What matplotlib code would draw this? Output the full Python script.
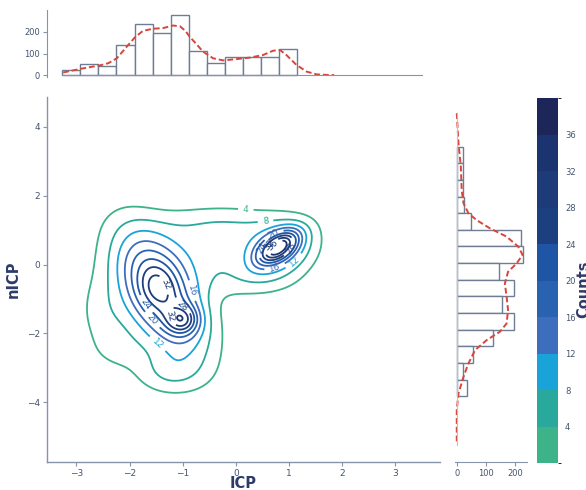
import matplotlib
matplotlib.use("Agg")
import matplotlib.pyplot as plt
import numpy as np
from matplotlib.colors import ListedColormap, BoundaryNorm
from matplotlib.cm import ScalarMappable

# ── density model of the joint plot (gaussian bumps) ──
BUMP_X   = [-1.40, -1.50, -1.00, -1.70,  0.80,  0.85, -0.25, -0.30,  0.30, -1.25, -2.20, -2.50]
BUMP_Y   = [-0.80, -0.65, -1.60, -1.30,  0.50,  0.45,  0.40,  1.20, -0.50, -3.15, -2.50, -1.50]
BUMP_SX  = [ 0.557, 0.22,  0.20,  0.80,  0.27,  0.42,  1.00,  1.00,  0.60,  0.45,  0.35,  0.35]
BUMP_SY  = [ 1.20,  0.40,  0.28,  1.20,  0.34,  0.55,  0.70,  0.40,  0.35,  0.45,  0.40,  0.80]
BUMP_RHO = [-0.54,  0.00,  0.00, -0.20,  0.55,  0.20,  0.00,  0.00,  0.00,  0.00,  0.00,  0.00]
BUMP_AMP = [25.0,   5.0,  14.0,   5.0,  24.0,  12.0,   8.0,   4.0,   3.0,   6.0,   2.5,   3.0]

LEVELS = [4, 8, 12, 16, 20, 24, 28, 32, 36]
BAND_COLORS = ["#3db389", "#28a99b", "#1aa3d9", "#3d6dbd", "#2a62b2",
               "#1f55a5", "#1c3f80", "#1c3b78", "#1b3470", "#1c2659"]

# ── marginal histograms ──
TOP_FIRST_EDGE, TOP_LAST_EDGE = -3.265, 1.147
TOP_COUNTS = [23, 53, 41, 139, 238, 197, 280, 112, 56, 83, 86, 83, 123]
TOP_KDE_X = [-3.25, -2.90, -2.56, -2.40, -2.24, -2.06, -1.90, -1.75, -1.56,
             -1.37, -1.18, -1.05, -0.95, -0.87, -0.74, -0.62, -0.43, -0.24,
             0.01, 0.26, 0.51, 0.70, 0.83, 0.95, 1.14, 1.33, 1.52, 1.77, 1.85]
TOP_KDE_Y = [12, 30, 45, 55, 78, 130, 175, 205, 215,
             218, 230, 226, 205, 178, 143, 109, 78, 68,
             74, 81, 93, 113, 116, 93, 47, 16, 3, 0, 0]

RIGHT_TOP_EDGE, RIGHT_BOTTOM_EDGE = 3.42, -3.82
RIGHT_COUNTS = [20, 20, 20, 25, 50, 222, 226, 146, 196, 154, 196, 123, 55, 23, 34]
RIGHT_KDE_Y = [4.39, 3.52, 2.84, 2.16, 1.78, 1.49, 1.29, 1.05, 0.81, 0.52, 0.28,
               0.03, -0.21, -0.55, -0.93, -1.32, -1.71, -1.95, -2.19, -2.48,
               -2.87, -3.26, -3.74, -4.22, -5.19]
RIGHT_KDE_X = [0, 6, 14, 17, 23, 40, 68, 114, 171, 211, 226,
               205, 176, 165, 171, 176, 171, 148, 103, 63,
               40, 23, 6, 0, 0]

XLIM = (-3.56, 3.84)
YLIM = (-5.72, 4.87)
SPINE = "#8593ab"
TICKC = "#44536f"
LABELC = "#2d3b6a"
EDGE = "#6f7d94"
KDE_RED = "#d8453b"

W, H = 586, 490
fig = plt.figure(figsize=(W / 100, H / 100), dpi=100)


def frac(x0, y0, x1, y1):
    return [x0 / W, 1 - y1 / H, (x1 - x0) / W, (y1 - y0) / H]


ax = fig.add_axes(frac(46.7, 96.7, 440, 461.7))
ax_top = fig.add_axes(frac(46.7, 10, 440, 77))
ax_right = fig.add_axes(frac(455, 96.7, 527, 461.7))
ax_cb = fig.add_axes(frac(537, 98.5, 558, 463))

# ── joint density contours ──
gx = np.linspace(XLIM[0], XLIM[1], 400)
gy = np.linspace(YLIM[0], YLIM[1], 400)
GX, GY = np.meshgrid(gx, gy)
Z = np.zeros_like(GX)
for mx, my, sx, sy, r, a in zip(BUMP_X, BUMP_Y, BUMP_SX, BUMP_SY, BUMP_RHO, BUMP_AMP):
    u = (GX - mx) / sx
    v = (GY - my) / sy
    Z += a * np.exp(-(u * u - 2 * r * u * v + v * v) / (2 * (1 - r * r)))

line_colors = [BAND_COLORS[i] for i in range(len(LEVELS))]
cs = ax.contour(GX, GY, Z, levels=LEVELS, colors=line_colors, linewidths=1.3)
ax.clabel(cs, inline=True, fontsize=6.5, fmt="%d")

ax.set_xlim(*XLIM)
ax.set_ylim(*YLIM)
ax.set_xticks([-3, -2, -1, 0, 1, 2, 3])
ax.set_yticks([-4, -2, 0, 2, 4])
for s in ["top", "right"]:
    ax.spines[s].set_visible(False)
for s in ["left", "bottom"]:
    ax.spines[s].set_color(SPINE)
    ax.spines[s].set_linewidth(1.0)
ax.tick_params(colors=SPINE, labelcolor=TICKC, labelsize=6.5, length=3, width=0.8, pad=2)
ax.set_xlabel("ICP", fontsize=10.5, color=LABELC, fontweight="semibold", labelpad=-1)
ax.set_ylabel("nICP", fontsize=10.5, color=LABELC, fontweight="semibold", labelpad=4)

# ── top histogram ──
top_edges = np.linspace(TOP_FIRST_EDGE, TOP_LAST_EDGE, len(TOP_COUNTS) + 1)
ax_top.bar(top_edges[:-1], TOP_COUNTS, width=np.diff(top_edges), align="edge",
           facecolor="white", edgecolor=EDGE, linewidth=1.0)
ax_top.plot(TOP_KDE_X, TOP_KDE_Y, color=KDE_RED, lw=1.4, ls=(0, (3, 1.5)))
ax_top.set_xlim(*XLIM)
ax_top.set_ylim(-9, 302)
ax_top.set_yticks([0, 100, 200])
ax_top.set_xticks([])
for s in ["top", "right"]:
    ax_top.spines[s].set_visible(False)
ax_top.spines["bottom"].set_position(("data", 0))
ax_top.spines["bottom"].set_bounds(TOP_FIRST_EDGE, 3.5)
ax_top.spines["bottom"].set_color(SPINE)
ax_top.spines["left"].set_color(SPINE)
ax_top.tick_params(colors=SPINE, labelcolor=TICKC, labelsize=6, length=3, width=0.8, pad=2)

# ── right histogram ──
right_edges = np.linspace(RIGHT_TOP_EDGE, RIGHT_BOTTOM_EDGE, len(RIGHT_COUNTS) + 1)
ax_right.barh(right_edges[1:], RIGHT_COUNTS, height=-np.diff(right_edges), align="edge",
              facecolor="white", edgecolor=EDGE, linewidth=1.0)
ax_right.plot(RIGHT_KDE_X, RIGHT_KDE_Y, color=KDE_RED, lw=1.4, ls=(0, (3, 1.5)))
ax_right.set_ylim(*YLIM)
ax_right.set_xlim(-6, 241)
ax_right.set_xticks([0, 100, 200])
ax_right.set_yticks([])
for s in ["top", "right"]:
    ax_right.spines[s].set_visible(False)
ax_right.spines["left"].set_position(("data", 0))
ax_right.spines["left"].set_bounds(-5.24, 4.39)
ax_right.spines["left"].set_color("#b9c1cf")
ax_right.spines["bottom"].set_color(SPINE)
ax_right.tick_params(colors=SPINE, labelcolor=TICKC, labelsize=6, length=3, width=0.8, pad=2)

# ── colorbar ──
bounds = np.arange(0, 44, 4)
cmap = ListedColormap(BAND_COLORS)
norm = BoundaryNorm(bounds, cmap.N)
cb = fig.colorbar(ScalarMappable(norm=norm, cmap=cmap), cax=ax_cb, ticks=LEVELS)
cb.outline.set_visible(False)
ax_cb.tick_params(length=0, labelsize=6, labelcolor=TICKC, pad=5)
fig.text(584 / W, 0.41, "Counts", rotation=90, ha="center", va="center",
         fontsize=10.5, color=LABELC, fontweight="semibold")

fig.savefig("out.png", dpi=100)
